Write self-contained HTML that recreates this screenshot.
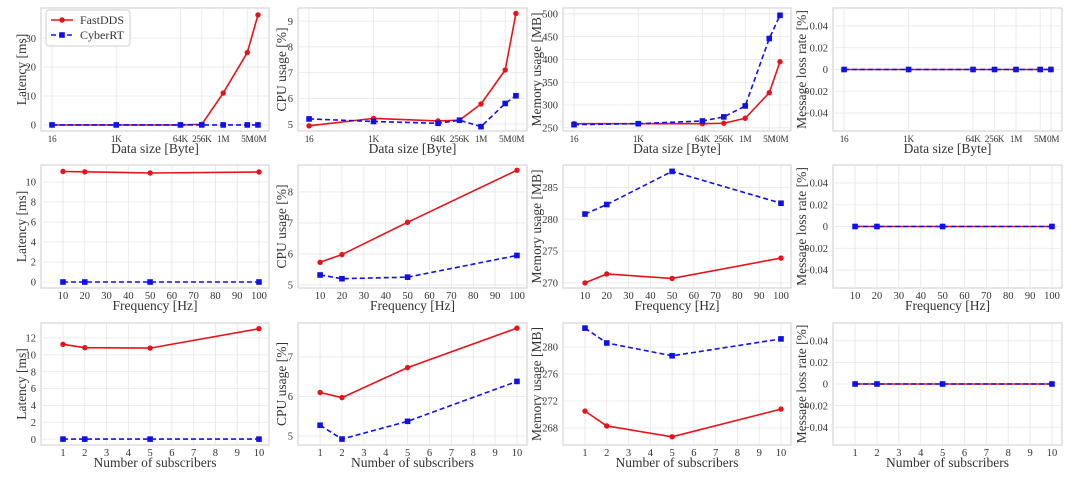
<!DOCTYPE html>
<html><head><meta charset="utf-8"><style>
body{margin:0;background:#fff;width:1080px;height:478px;overflow:hidden}
svg text{font-family:"Liberation Serif",serif;fill:#333}
</style></head><body>
<svg id="c" width="1080" height="478" xmlns="http://www.w3.org/2000/svg"></svg>
<script>
// ---- data ----
const sizeLabels=["16","1K","64K","256K","1M","5M","10M"];
const sizeLog=[4,10,16,18,20,22.25,23.25];
const freqX=[10,20,50,100];
const subX=[1,2,5,10];
const sizeLatFast=[0,0,0,0.2,11,25,38];
const sizeLatCyber=[0,0,0,0,0,0,0];
const sizeCpuFast=[4.93,5.22,5.12,5.15,5.78,7.1,9.3];
const sizeCpuCyber=[5.2,5.1,5.03,5.15,4.9,5.8,6.1];
const sizeMemFast=[259,259,259,260,271,327,395];
const sizeMemCyber=[257,259,265,274,298,446,497];
const sizeLossFast=[0,0,0,0,0,0,0];
const sizeLossCyber=[0,0,0,0,0,0,0];
const freqLatFast=[11.05,11.02,10.9,11.0];
const freqLatCyber=[0,0,0,0];
const freqCpuFast=[5.73,5.98,7.02,8.7];
const freqCpuCyber=[5.32,5.2,5.25,5.95];
const freqMemFast=[270,271.4,270.7,273.9];
const freqMemCyber=[280.8,282.3,287.5,282.5];
const freqLossFast=[0,0,0,0];
const freqLossCyber=[0,0,0,0];
const subLatFast=[11.25,10.85,10.8,13.1];
const subLatCyber=[0,0,0,0];
const subCpuFast=[6.1,5.97,6.73,7.73];
const subCpuCyber=[5.27,4.92,5.37,6.38];
const subMemFast=[270.5,268.3,266.7,270.8];
const subMemCyber=[282.8,280.6,278.7,281.2];
const subLossFast=[0,0,0,0];
const subLossCyber=[0,0,0,0];
const lossTicks=[-0.04,-0.02,0,0.02,0.04];
const lossTickLabels=["\u22120.04","\u22120.02","0","0.02","0.04"];

const svg=document.getElementById('c');
const NS="http://www.w3.org/2000/svg";
function el(tag,attrs,parent){const e=document.createElementNS(NS,tag);for(const k in attrs)e.setAttribute(k,attrs[k]);(parent||svg).appendChild(e);return e;}

const cols=[[41,269],[298,527],[563,791],[833,1062]];
const rows=[[8,131],[165,288],[323,445]];
const ylabels=["Latency [ms]","CPU usage [%]","Memory usage [MB]","Message loss rate [%]"];
const ylabX=[22,282,537,802];

function panel(r,c,cfg){
  const [x0,x1]=cols[c],[y0,y1]=rows[r];
  const g=el('g',{});
  
  
  const sx=v=>x0+(v-cfg.xd[0])/(cfg.xd[1]-cfg.xd[0])*(x1-x0);
  const sy=v=>y1-(v-cfg.yd[0])/(cfg.yd[1]-cfg.yd[0])*(y1-y0);
  el('rect',{x:x0,y:y0,width:x1-x0,height:y1-y0,fill:'#fff',stroke:'#ccc','stroke-width':1},g);
  cfg.xt.forEach((t,i)=>{const x=sx(t);
    el('line',{x1:x,x2:x,y1:y0,y2:y1,stroke:'#e6e6e6','stroke-width':0.8},g);
    const tx=el('text',{x:x,y:y1+11,'font-size':cfg.xfs||10.5,'text-anchor':'middle','letter-spacing':cfg.xls||0},g);tx.textContent=cfg.xtl[i];
    
    });
  cfg.yt.forEach((t,i)=>{const y=sy(t);
    el('line',{x1:x0,x2:x1,y1:y,y2:y,stroke:'#e6e6e6','stroke-width':0.8},g);
    const tx=el('text',{x:x0-5,y:y+3.7,'font-size':10.5,'text-anchor':'end'},g);tx.textContent=cfg.ytl?cfg.ytl[i]:String(t);
    
    });
  const xl=el('text',{x:(x0+x1)/2,y:y1+22,'font-size':13.5,'text-anchor':'middle'},g);xl.textContent=cfg.xlabel;
  
  
  const yl=el('text',{x:0,y:0,'font-size':13.5,'text-anchor':'middle',transform:`translate(${ylabX[c]+4},${(y0+y1)/2}) rotate(-90)`},g);yl.textContent=ylabels[c];
  
  
  const pf=cfg.x.map((v,i)=>sx(v)+','+sy(cfg.f[i])).join(' ');
  const lf=el('polyline',{points:pf,fill:'none',stroke:'#e8121a','stroke-width':1.6},g);
  
  
  cfg.x.forEach((v,i)=>{const m=el('circle',{cx:sx(v),cy:sy(cfg.f[i]),r:2.7,fill:'#e8121a'},g);
    
    });
  const pc=cfg.x.map((v,i)=>sx(v)+','+sy(cfg.cy[i])).join(' ');
  const lc=el('polyline',{points:pc,fill:'none',stroke:'#1010e8','stroke-width':1.6,'stroke-dasharray':'5,3'},g);
  
  
  cfg.x.forEach((v,i)=>{const m=el('rect',{x:sx(v)-2.8,y:sy(cfg.cy[i])-2.8,width:5.6,height:5.6,fill:'#1010e8'},g);
    
    });
}
const sizeX={x:sizeLog,xd:[2.97,24.28],xt:sizeLog,xtl:sizeLabels,xlabel:"Data size [Byte]",xfs:9.3,xls:-0.3};
const freqA={x:freqX,xd:[-0.1,104.6],xt:[10,20,30,40,50,60,70,80,90,100],xtl:["10","20","30","40","50","60","70","80","90","100"],xlabel:"Frequency [Hz]"};
const subA={x:subX,xd:[-0.01,10.46],xt:[1,2,3,4,5,6,7,8,9,10],xtl:["1","2","3","4","5","6","7","8","9","10"],xlabel:"Number of subscribers"};
const lossY={yd:[-0.0565,0.0565],yt:lossTicks,ytl:lossTickLabels};
panel(0,0,{...sizeX,f:sizeLatFast,cy:sizeLatCyber,yd:[-2.1,40.4],yt:[0,10,20,30]});
panel(0,1,{...sizeX,f:sizeCpuFast,cy:sizeCpuCyber,yd:[4.73,9.51],yt:[5,6,7,8,9]});
panel(0,2,{...sizeX,f:sizeMemFast,cy:sizeMemCyber,yd:[243,513],yt:[250,300,350,400,450,500]});
panel(0,3,{...sizeX,f:sizeLossFast,cy:sizeLossCyber,...lossY});
panel(1,0,{...freqA,f:freqLatFast,cy:freqLatCyber,yd:[-0.6,11.7],yt:[0,2,4,6,8,10]});
panel(1,1,{...freqA,f:freqCpuFast,cy:freqCpuCyber,yd:[4.9,8.87],yt:[5,6,7,8]});
panel(1,2,{...freqA,f:freqMemFast,cy:freqMemCyber,yd:[269.2,288.5],yt:[270,275,280,285]});
panel(1,3,{...freqA,f:freqLossFast,cy:freqLossCyber,...lossY});
panel(2,0,{...subA,f:subLatFast,cy:subLatCyber,yd:[-0.7,13.78],yt:[0,2,4,6,8,10,12]});
panel(2,1,{...subA,f:subCpuFast,cy:subCpuCyber,yd:[4.77,7.86],yt:[5,6,7]});
panel(2,2,{...subA,f:subMemFast,cy:subMemCyber,yd:[265.48,283.56],yt:[268,272,276,280]});
panel(2,3,{...subA,f:subLossFast,cy:subLossCyber,...lossY});
const lg=el('g',{});


el('rect',{x:46,y:10,width:84,height:36,rx:3,fill:'#fff',stroke:'#ccc'},lg);
el('line',{x1:51,x2:73,y1:20,y2:20,stroke:'#e8121a','stroke-width':1.6},lg);
el('circle',{cx:62,cy:20,r:2.7,fill:'#e8121a'},lg);
const t1=el('text',{x:80,y:24,'font-size':12},lg);t1.textContent="FastDDS";


el('line',{x1:51,x2:73,y1:35,y2:35,stroke:'#1010e8','stroke-width':1.6,'stroke-dasharray':'5,3'},lg);
el('rect',{x:59.2,y:32.2,width:5.6,height:5.6,fill:'#1010e8'},lg);
const t2=el('text',{x:80,y:39,'font-size':12},lg);t2.textContent="CyberRT";


</script>
</body></html>
